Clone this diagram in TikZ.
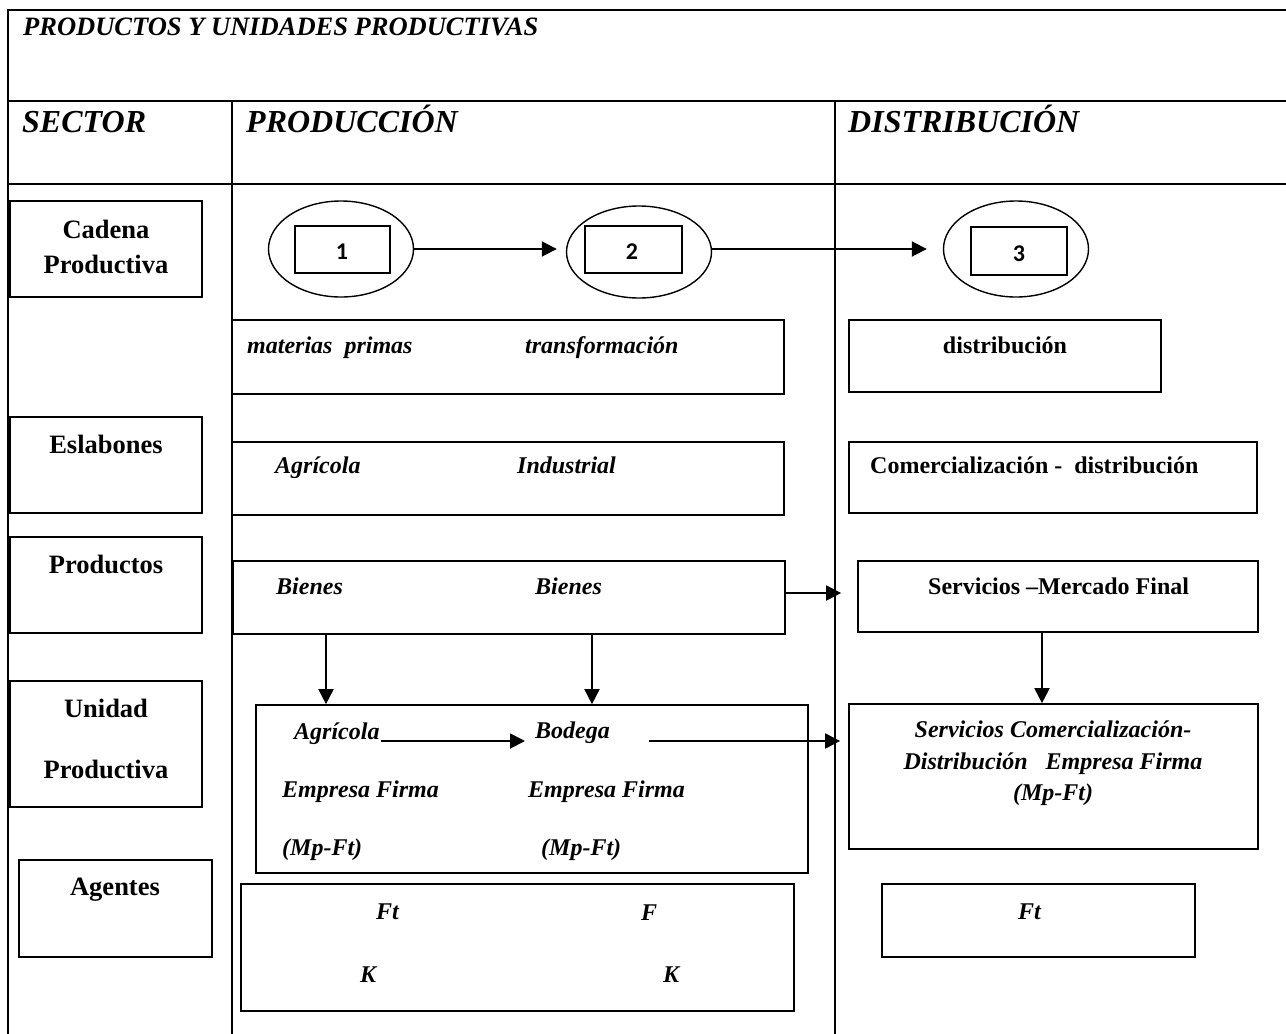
\documentclass[tikz,border=0pt]{standalone}
\usepackage{fontspec}
\setmainfont{Liberation Serif}
\newfontfamily\numfont{Carlito}
\usetikzlibrary{shapes.geometric,arrows.meta,fit,calc}

\begin{document}
\begin{tikzpicture}[x=1pt,y=-1pt,
  grid/.style={line width=2.2pt},
  box/.style={draw,rectangle,line width=1.7pt,inner sep=0pt},
  numbox/.style={draw,rectangle,line width=1.5pt,inner sep=0pt},
  oval/.style={draw,ellipse,line width=1.4pt,inner sep=0pt},
  arr/.style={line width=1.9pt,-{Triangle[length=15pt,width=15pt]}},
  ttl/.style={anchor=base west,inner sep=0pt,font=\fontsize{26.5}{30}\selectfont\bfseries\itshape},
  head/.style={anchor=base west,inner sep=0pt,font=\fontsize{32}{36}\selectfont\bfseries\itshape},
  sect/.style={anchor=base,inner sep=0pt,font=\fontsize{26.5}{30}\selectfont\bfseries},
  bld/.style={anchor=base west,inner sep=0pt,font=\fontsize{24}{28}\selectfont\bfseries},
  itl/.style={anchor=base west,inner sep=0pt,font=\fontsize{24}{28}\selectfont\bfseries\itshape},
  num/.style={inner sep=0pt,font=\fontsize{24}{28}\selectfont\numfont\bfseries}]

\useasboundingbox (0,0) rectangle (1286,1034);

% table frame
\draw[grid] (1286,10) -- (8,10) -- (8,1034);
\draw[grid] (8,101) -- (1286,101);
\draw[grid] (8,184) -- (1286,184);
\draw[grid] (232,101) -- (232,1034);
\draw[grid] (835,101) -- (835,1034);

% headings
\node[ttl] (title) at (23,35) {PRODUCTOS Y UNIDADES PRODUCTIVAS};
\node[head] (hsector) at (22,132) {SECTOR};
\node[head] (hprod) at (246,132) {PRODUCCIÓN};
\node[head] (hdist) at (848,132) {DISTRIBUCIÓN};

% sector labels
\node[box,fit={(10,201)(202,297)}] (sCad) {};
\node[sect] (sCad1) at (106,238) {Cadena};
\node[sect] (sCad2) at (106,273) {Productiva};
\node[box,fit={(10,417)(202,513)}] (sEsl) {};
\node[sect] (sEslT) at (106,453) {Eslabones};
\node[box,fit={(10,537)(202,633)}] (sPro) {};
\node[sect] (sProT) at (106,573) {Productos};
\node[box,fit={(10,681)(202,807)}] (sUni) {};
\node[sect] (sUni1) at (106,717) {Unidad};
\node[sect] (sUni2) at (106,778) {Productiva};
\node[box,fit={(19,860)(212,957)}] (sAge) {};
\node[sect] (sAgeT) at (115,895) {Agentes};

% productive chain
\node[oval,minimum width=145pt,minimum height=96pt] (e1) at (341,249) {};
\node[numbox,fit={(295,226)(390,273)}] (n1) {};
\node[num] (t1) at (342,252) {1};
\node[oval,minimum width=145pt,minimum height=92pt] (e2) at (639,252) {};
\node[numbox,fit={(585,226)(682,273)}] (n2) {};
\node[num] (t2) at (632,252) {2};
\node[oval,minimum width=145pt,minimum height=96pt] (e3) at (1016,249) {};
\node[numbox,fit={(971,227)(1067,275)}] (n3) {};
\node[num] (t3) at (1019,254) {3};
\draw[arr,shorten >=9pt] (e1.east) -- (e2.west |- e1.east);
\draw[arr,shorten >=16pt] (e2.east |- e3.west) -- (e3.west);

% stages
\node[box,fit={(232,320)(784,394)}] (bMat) {};
\node[itl] (tMat) at (247,353) {materias\ \ primas};
\node[itl] (tTra) at (525,353) {transformación};
\node[box,fit={(849,320)(1161,392)}] (bDis) {};
\node[bld,anchor=base] (tDis) at (1005,353) {distribución};

% links
\node[box,fit={(232,442)(784,515)}] (bEsl) {};
\node[itl] (tAgr1) at (275,473) {Agrícola};
\node[itl] (tInd) at (517,473) {Industrial};
\node[box,fit={(849,442)(1257,513)}] (bCom) {};
\node[bld] (tCom) at (870,473) {Comercialización -\ \ distribución};

% products
\node[box,fit={(233,561)(785,634)}] (bBie) {};
\node[itl] (tBie1) at (276,594) {Bienes};
\node[itl] (tBie2) at (535,594) {Bienes};
\node[box,fit={(858,561)(1258,632)}] (bSer) {};
\node[bld] (tSer) at (928,594) {Servicios –Mercado Final};
\coordinate (bieOut) at (785,593);
\draw[arr,shorten >=16pt] (bieOut) -- (bieOut -| bSer.west);

% productive units
\node[box,fit={(256,705)(808,873)}] (bUP) {};
\node[itl] (tAgr2) at (294,739) {Agrícola};
\node[itl] (tBod) at (535,738) {Bodega};
\node[itl] (tEmp1) at (282,797) {Empresa Firma};
\node[itl] (tEmp2) at (528,797) {Empresa Firma};
\node[itl] (tMp1) at (282,855) {(Mp-Ft)};
\node[itl] (tMp2) at (541,855) {(Mp-Ft)};
\node[box,fit={(849,704)(1258,849)}] (bSC) {};
\node[itl,anchor=base] (tSC1) at (1053,737) {Servicios Comercialización-};
\node[itl,anchor=base] (tSC2) at (1053,769) {Distribución\ \ \ Empresa Firma};
\node[itl,anchor=base] (tSC3) at (1053,800) {(Mp-Ft)};

\coordinate (d1) at (326,634);
\coordinate (d2) at (592,634);
\coordinate (d3) at (1042,632);
\draw[arr] (d1) -- (d1 |- bUP.north);
\draw[arr] (d2) -- (d2 |- bUP.north);
\draw[arr] (d3) -- (d3 |- bSC.north);
\draw[arr] ([xshift=1pt,yshift=-2pt]tAgr2.base east) -- ([xshift=-10pt,yshift=-3pt]tBod.base west);
\coordinate (bodOut) at ([xshift=39pt,yshift=-3pt]tBod.base east);
\draw[arr,shorten >=8pt] (bodOut) -- (bodOut -| bSC.west);

% agents
\node[box,fit={(241,884)(794,1011)}] (bAg) {};
\node[itl] (tFt1) at (376,919) {Ft};
\node[itl] (tF) at (641,920) {F};
\node[itl] (tK1) at (360,982) {K};
\node[itl] (tK2) at (663,982) {K};
\node[box,fit={(882,884)(1195,957)}] (bFt) {};
\node[itl] (tFt2) at (1018,919) {Ft};

\end{tikzpicture}
\end{document}
